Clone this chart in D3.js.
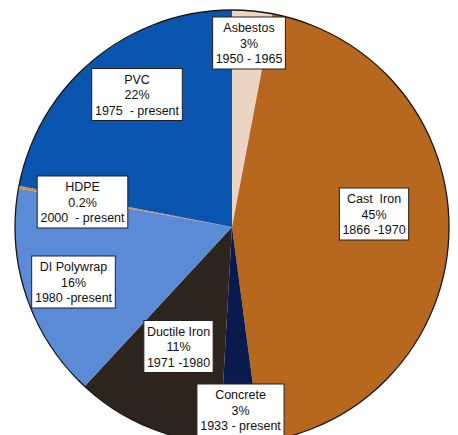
<!DOCTYPE html>
<html>
<head>
<meta charset="utf-8">
<script src="https://cdn.jsdelivr.net/npm/d3@7"></script>
<style>
  body { margin: 0; background: #fff; }
  svg { display: block; }
  text { white-space: pre; }
</style>
</head>
<body>
<svg width="458" height="435"></svg>
<script>
// pipe material shares, clockwise from 12 o'clock
var materials = ["Asbestos", "Cast  Iron", "Concrete", "Ductile Iron", "DI Polywrap", "HDPE", "PVC"];
var shares = [3, 45, 3, 11, 16, 0.2, 22];
var shareLabels = ["3%", "45%", "3%", "11%", "16%", "0.2%", "22%"];
var years = ["1950 - 1965", "1866 -1970", "1933 - present", "1971 -1980", "1980 -present", "2000  - present", "1975  - present"];
var colors = ["#ecd4c4", "#b8681e", "#0b1a4e", "#2d241e", "#5b8bd6", "#d8903e", "#0a55b0"];

// label box centres (layout only)
var boxPos = [[249, 43], [374, 214], [240.5, 410], [178.5, 346.5], [73.5, 282], [82.5, 202], [137, 94.5]];

var svg = d3.select("svg"),
    cx = 232, cy = 227, radius = 217;

var pie = d3.pie().sort(null).value(function(d) { return d; });
var arc = d3.arc().innerRadius(0).outerRadius(radius);

var g = svg.append("g").attr("transform", "translate(" + cx + "," + cy + ")");

g.selectAll(".slice")
    .data(pie(shares))
    .enter().append("path")
    .attr("class", "slice")
    .attr("d", arc)
    .attr("fill", function(d, i) { return colors[i]; });

g.append("circle")
    .attr("r", radius)
    .attr("fill", "none")
    .attr("stroke", "#1a1410")
    .attr("stroke-width", 1.3);

var labels = svg.selectAll(".lbl")
    .data(materials)
    .enter().append("g")
    .attr("class", "lbl")
    .attr("transform", function(d, i) { return "translate(" + boxPos[i][0] + "," + boxPos[i][1] + ")"; });

labels.each(function(d, i) {
    var lg = d3.select(this);
    var rect = lg.append("rect").attr("fill", "#fff").attr("stroke", "#222").attr("stroke-width", 1);
    var lines = [d, shareLabels[i], years[i]];
    var t = lg.append("text")
        .attr("text-anchor", "middle")
        .attr("font-family", "Liberation Sans, Arial, sans-serif")
        .attr("font-size", 12.5)
        .attr("fill", "#111");
    lines.forEach(function(s, k) {
        t.append("tspan").attr("x", 0).attr("y", (k - 1) * 15.5 + 4.5).text(s);
    });
    var bb = t.node().getBBox();
    var w = bb.width + 6, h = 52;
    rect.attr("x", -w / 2).attr("y", -h / 2).attr("width", w).attr("height", h);
});
</script>
</body>
</html>
